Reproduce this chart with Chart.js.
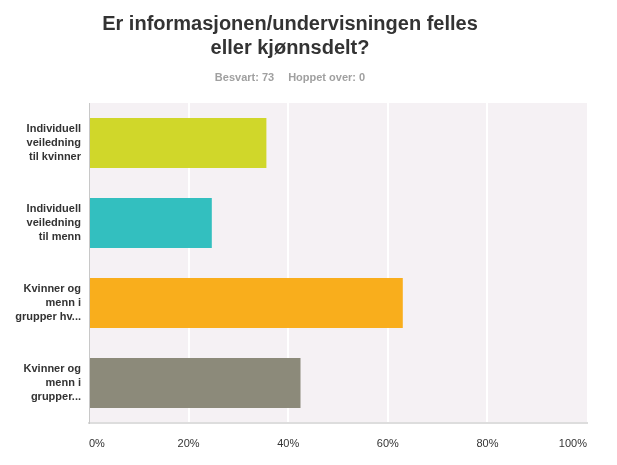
<!DOCTYPE html>
<html>
<head>
<meta charset="utf-8">
<script src="https://cdn.jsdelivr.net/npm/chart.js@4"></script>
<style>
  html, body { margin: 0; padding: 0; background: #fff; }
  #wrap { width: 617px; height: 465px; }
</style>
</head>
<body>
<div id="wrap"><canvas id="surveyChart" width="617" height="465"></canvas></div>
<script>
const FONT = 'Arial, "Liberation Sans", sans-serif';

const categories = [
  ['Individuell', 'veiledning', 'til kvinner'],
  ['Individuell', 'veiledning', 'til menn'],
  ['Kvinner og', 'menn i', 'grupper hv...'],
  ['Kvinner og', 'menn i', 'grupper...']
];
const percentages = [35.62, 24.66, 63.01, 42.47];
const barColors = ['#d0d72a', '#33bfbf', '#f9ae1c', '#8c8a7a'];
const tickValues = [0, 20, 40, 60, 80, 100];

const titleLines = ['Er informasjonen/undervisningen felles', 'eller kjønnsdelt?'];
const answered = 'Besvart: 73';
const skipped = 'Hoppet over: 0';

/* plot background + heading */
const decor = {
  id: 'decor',
  beforeDraw(chart) {
    const { ctx, chartArea: a } = chart;
    ctx.save();
    ctx.fillStyle = '#f5f1f4';
    ctx.fillRect(a.left, a.top, a.right - a.left, a.bottom - a.top);
    ctx.restore();
  },
  afterDraw(chart) {
    const ctx = chart.ctx;
    const cx = 290;
    ctx.save();
    ctx.textAlign = 'center';
    ctx.textBaseline = 'alphabetic';
    ctx.fillStyle = '#333333';
    ctx.font = 'bold 20px ' + FONT;
    ctx.fillText(titleLines[0], cx, 30);
    ctx.fillText(titleLines[1], cx, 54);
    ctx.fillStyle = '#a0a0a0';
    ctx.font = 'bold 11px ' + FONT;
    const gap = 14;
    const w1 = ctx.measureText(answered).width;
    const w2 = ctx.measureText(skipped).width;
    const start = cx - (w1 + gap + w2) / 2;
    ctx.textAlign = 'left';
    ctx.fillText(answered, start, 81);
    ctx.fillText(skipped, start + w1 + gap, 81);
    ctx.restore();
  }
};

new Chart(document.getElementById('surveyChart'), {
  type: 'bar',
  data: {
    labels: categories,
    datasets: [{
      data: percentages,
      backgroundColor: barColors,
      barPercentage: 0.625,
      categoryPercentage: 1
    }]
  },
  options: {
    indexAxis: 'y',
    responsive: false,
    animation: false,
    layout: { padding: { top: 103, right: 30, left: 0, bottom: 0 } },
    plugins: {
      legend: { display: false },
      tooltip: { enabled: false }
    },
    scales: {
      x: {
        min: 0,
        max: 100,
        afterBuildTicks: scale => { scale.ticks = tickValues.map(v => ({ value: v })); },
        afterFit: scale => { scale.height = 42; },
        border: { color: '#dddddd', width: 2 },
        grid: {
          drawTicks: false,
          color: c => (c.tick.value === 0 || c.tick.value === 100) ? 'rgba(0,0,0,0)' : '#ffffff',
          lineWidth: 2
        },
        ticks: {
          align: 'inner',
          padding: 14,
          color: '#333333',
          font: { family: FONT, size: 11 },
          callback: v => v + '%'
        }
      },
      y: {
        afterFit: scale => { scale.width = 89; },
        border: { color: '#c8c8c8', width: 1 },
        grid: { display: false, drawTicks: false },
        ticks: {
          padding: 8,
          color: '#333333',
          font: { family: FONT, size: 11, weight: 'bold', lineHeight: 1.27 }
        }
      }
    }
  },
  plugins: [decor]
});
</script>
</body>
</html>
